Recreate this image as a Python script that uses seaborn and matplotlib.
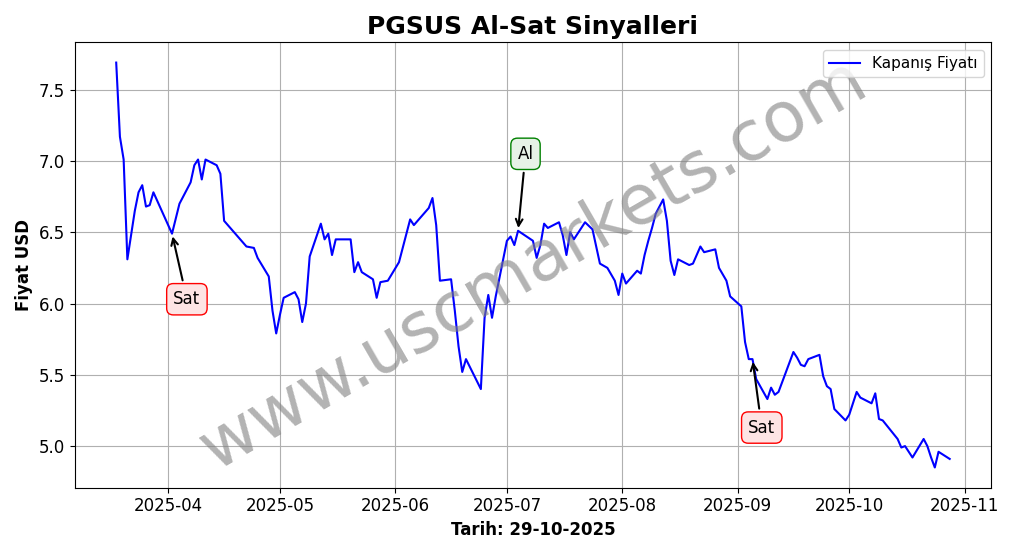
import pandas as pd
import seaborn as sns
import matplotlib.pyplot as plt
import numpy as np

# Day offsets since 2025-03-18 and closing prices
day_offsets = [0, 1, 2, 3, 4, 5, 6, 7, 8, 9, 10, 15, 17, 20, 21, 22, 23, 24, 27, 28,
               29, 31, 35, 37, 38, 41, 42, 43, 44, 45, 48, 49, 50, 51, 52, 55, 56, 57, 58, 59,
               63, 64, 65, 66, 69, 70, 71, 73, 76, 79, 80, 84, 85, 86, 87, 90, 91, 92, 93, 94,
               98, 99, 100, 101, 102, 105, 106, 107, 108, 112, 113, 114, 115, 116, 119, 120, 121, 122, 123, 126,
               128, 130, 132, 134, 135, 136, 137, 140, 141, 142, 143, 144, 145, 147, 148, 149, 150, 151, 154, 155,
               157, 158, 161, 162, 164, 165, 168, 169, 170, 171, 172, 175, 176, 177, 178, 182, 183, 184, 185, 186,
               189, 190, 191, 192, 193, 196, 197, 199, 200, 203, 204, 205, 206, 210, 211, 212, 214, 217, 218, 219,
               220, 221, 224]
prices = [7.69, 7.17, 7.01, 6.31, 6.48, 6.65, 6.78, 6.83, 6.68, 6.69, 6.78, 6.49, 6.70, 6.85, 6.97, 7.01, 6.87, 7.01, 6.97, 6.91,
          6.58, 6.52, 6.40, 6.39, 6.32, 6.19, 5.95, 5.79, 5.92, 6.04, 6.08, 6.03, 5.87, 6.00, 6.33, 6.56, 6.45, 6.49, 6.34, 6.45,
          6.45, 6.22, 6.29, 6.22, 6.17, 6.04, 6.15, 6.16, 6.29, 6.59, 6.55, 6.67, 6.74, 6.55, 6.16, 6.17, 5.95, 5.70, 5.52, 5.61,
          5.40, 5.90, 6.06, 5.90, 6.05, 6.44, 6.47, 6.41, 6.51, 6.44, 6.32, 6.41, 6.56, 6.53, 6.57, 6.48, 6.34, 6.50, 6.45, 6.57,
          6.52, 6.28, 6.25, 6.16, 6.06, 6.21, 6.14, 6.23, 6.21, 6.34, 6.44, 6.53, 6.63, 6.73, 6.58, 6.30, 6.20, 6.31, 6.27, 6.28,
          6.40, 6.36, 6.38, 6.25, 6.16, 6.05, 5.98, 5.73, 5.61, 5.61, 5.47, 5.33, 5.41, 5.36, 5.38, 5.66, 5.62, 5.57, 5.56, 5.61,
          5.64, 5.49, 5.42, 5.40, 5.26, 5.18, 5.22, 5.38, 5.34, 5.30, 5.37, 5.19, 5.18, 5.05, 4.99, 5.00, 4.92, 5.05, 5.00, 4.92,
          4.85, 4.96, 4.91]

# Signals: day offset, label, text position
signal_days = [15, 108, 171]
signal_labels = ['Sat', 'Al', 'Sat']
signal_text_days = [19, 110, 173.5]
signal_text_prices = [6.03, 7.05, 5.13]

start = pd.Timestamp('2025-03-18')
df = pd.DataFrame({'Tarih': start + pd.to_timedelta(day_offsets, unit='D'), 'Fiyat': prices})

fig, ax = plt.subplots(figsize=(10.18, 5.54), dpi=100)
sns.lineplot(data=df, x='Tarih', y='Fiyat', ax=ax, color='blue', label='Kapanış Fiyatı', linewidth=1.5)

price_by_day = dict(zip(day_offsets, prices))
for d, lab, td, tp in zip(signal_days, signal_labels, signal_text_days, signal_text_prices):
    is_buy = lab == 'Al'
    ax.annotate(lab, xy=(start + pd.Timedelta(days=d), price_by_day[d]),
                xytext=(start + pd.Timedelta(days=td), tp),
                fontsize=12, ha='center', va='center',
                bbox=dict(boxstyle='round,pad=0.4', fc='#e6f2e6' if is_buy else '#fde4e4',
                          ec='green' if is_buy else 'red'),
                arrowprops=dict(arrowstyle='->', color='black', lw=1.5))

ax.text(0.5, 0.5, 'www.uscmarkets.com', transform=ax.transAxes, fontsize=50,
        color='gray', alpha=0.6, rotation=30, ha='center', va='center')

ax.set_title('PGSUS Al-Sat Sinyalleri', fontsize=18, fontweight='bold')
ax.set_xlabel('Tarih: 29-10-2025', fontsize=12, fontweight='bold')
ax.set_ylabel('Fiyat USD', fontsize=12, fontweight='bold')
months = pd.date_range('2025-04-01', '2025-11-01', freq='MS')
ax.set_xticks(months)
ax.set_xticklabels([d.strftime('%Y-%m') for d in months])
ax.set_yticks(np.arange(5.0, 7.6, 0.5))
ax.tick_params(labelsize=12)
ax.grid(True)
ax.legend(loc='upper right', fontsize=11)

plt.tight_layout()
fig.savefig('out.png')
